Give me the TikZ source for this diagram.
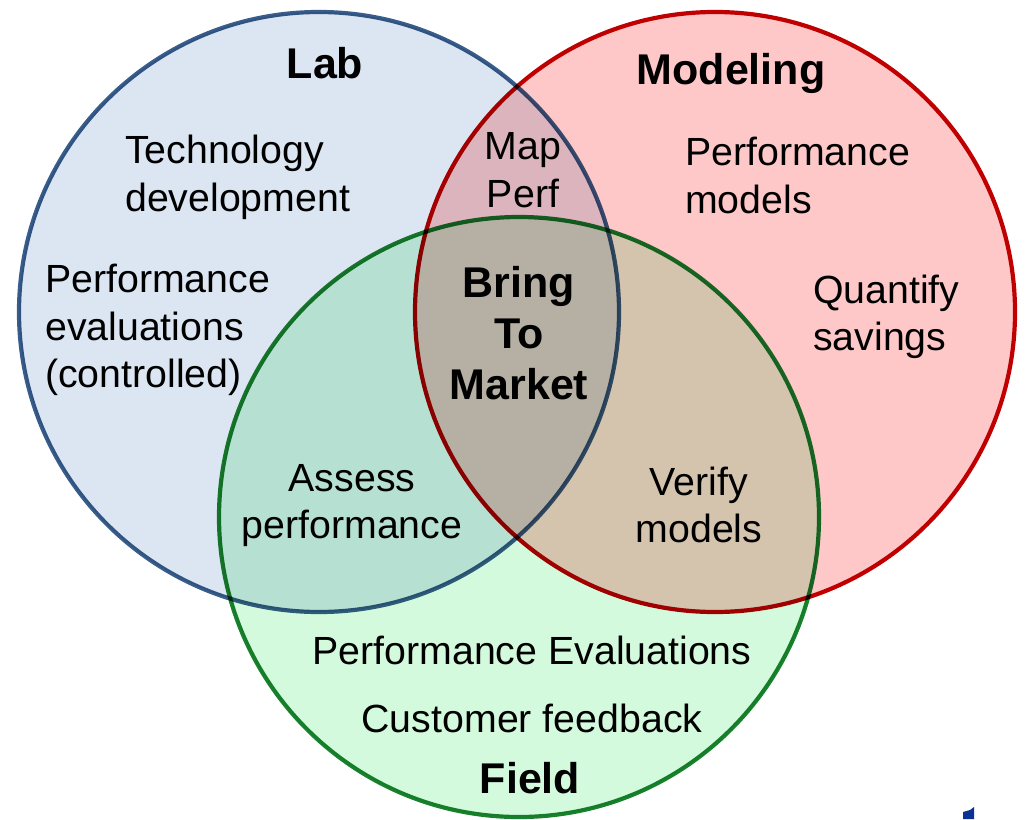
\documentclass[tikz,border=0pt]{standalone}
\usepackage{fontspec}
\setmainfont{Liberation Sans}
\definecolor{labline}{RGB}{56,93,138}
\definecolor{labfill}{RGB}{220,230,242}
\definecolor{modline}{RGB}{192,0,0}
\definecolor{modfill}{RGB}{255,200,200}
\definecolor{fldline}{RGB}{25,128,45}
\definecolor{fldfill}{RGB}{212,250,222}
\definecolor{logoblue}{RGB}{10,50,150}
\tikzset{
  venn/.style={circle, minimum size=600pt, inner sep=0pt, line width=4.2pt},
  txt/.style={inner sep=0pt, font=\fontsize{39.3}{47.5}\selectfont, text=black},
  ttl/.style={inner sep=0pt, font=\bfseries\fontsize{43}{51}\selectfont, text=black},
}
\begin{document}
\begin{tikzpicture}[x=1pt,y=-1pt]
\useasboundingbox (0,0) rectangle (1027,819);
\begin{scope}[blend group=multiply]
  \node[venn, draw=labline, fill=labfill] (lab) at (319,312) {};
  \node[venn, draw=modline, fill=modfill] (mod) at (715,312) {};
  \node[venn, draw=fldline, fill=fldfill] (fld) at (519,517) {};
\end{scope}
\node[ttl] (tlab) at (325,63) {Lab};
\node[ttl] (tmod) at (731,73) {Modeling};
\node[ttl] (tfld) at (530,778) {Field};
\node[ttl, align=center] (bring) at (519,333) {Bring\\To\\Market};
\node[txt, align=left, anchor=west] (tech) at (125,177.5) {Technology\\development};
\node[txt, align=left, anchor=west] (peval) at (45,330) {Performance\\evaluations\\(controlled)};
\node[txt, align=center] (map) at (523,170) {Map\\Perf};
\node[txt, align=left, anchor=west] (pmod) at (685,175.5) {Performance\\models};
\node[txt, align=left, anchor=west] (quant) at (813,317) {Quantify\\savings};
\node[txt, align=center] (assess) at (352,505.5) {Assess\\performance};
\node[txt, align=center] (verify) at (699,505) {Verify\\models};
\node[txt] (pe) at (532,650) {Performance Evaluations};
\node[txt] (cf) at (532,718) {Customer feedback};
\fill[logoblue] (963,812) -- (970,810) -- (974,807) -- (974,819) -- (963,819) -- cycle;
\end{tikzpicture}
\end{document}
